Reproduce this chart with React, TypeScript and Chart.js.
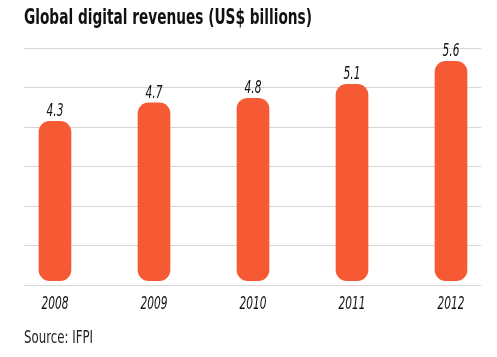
import React, { useEffect, useRef } from "react";
import { Chart, registerables } from "chart.js";

Chart.register(...registerables);

const YEARS = ["2008", "2009", "2010", "2011", "2012"];
const VALUES = [4.3, 4.7, 4.8, 5.1, 5.6];
const TITLE = "Global digital revenues (US$ billions)";
const SOURCE = "Source: IFPI";

const Y_MIN = 0.74;
const Y_MAX = 5.89;
const BAR_BASE = 0.84;
const GRID_STEPS = 6;
const X_MIN = -0.313;
const X_MAX = 4.303;

const BAR_COLOR = "#f65a34";
const GRID_COLOR = "#d6d6d6";
const FONT = "'Liberation Sans Narrow', 'DejaVu Sans Condensed', 'Arial Narrow', sans-serif";
const LABEL_FONT = `italic 17px ${FONT}`;
const YEAR_LABEL_WIDTH = 27;

function drawCondensed(ctx: any, text: string, x: number, y: number, factor: number) {
  ctx.save();
  ctx.translate(x, y);
  ctx.scale(factor, 1);
  ctx.fillText(text, 0, 0);
  ctx.restore();
}

const textLabels = {
  id: "textLabels",
  afterDatasetsDraw(chart: any) {
    const ctx = chart.ctx;
    const meta = chart.getDatasetMeta(0);
    const xScale = chart.scales.x;
    const area = chart.chartArea;
    ctx.save();
    ctx.font = LABEL_FONT;
    ctx.fillStyle = "#111";
    ctx.textAlign = "center";
    ctx.textBaseline = "alphabetic";
    const natural = ctx.measureText(YEARS[0]).width;
    const factor = natural > 0 ? Math.min(1, YEAR_LABEL_WIDTH / natural) : 1;
    meta.data.forEach((el: any, i: number) => {
      drawCondensed(ctx, VALUES[i].toFixed(1), el.x, el.y - 5, factor);
    });
    YEARS.forEach((year, i) => {
      drawCondensed(ctx, year, xScale.getPixelForValue(i), area.bottom + 24, factor);
    });
    ctx.restore();
  },
};

function FitText({ text, width, style }: { text: string; width: number; style: any }) {
  const ref = useRef<HTMLSpanElement>(null);
  useEffect(() => {
    const el = ref.current;
    if (!el) return;
    el.style.transform = "none";
    const w = el.getBoundingClientRect().width;
    if (w > 0) el.style.transform = `scaleX(${width / w})`;
  }, [text, width]);
  return (
    <span
      ref={ref}
      style={{ display: "inline-block", whiteSpace: "nowrap", transformOrigin: "left top", ...style }}
    >
      {text}
    </span>
  );
}

export default function App() {
  const canvasRef = useRef<HTMLCanvasElement>(null);

  useEffect(() => {
    if (!canvasRef.current) return;
    const chart = new Chart(canvasRef.current, {
      type: "bar",
      data: {
        datasets: [
          {
            data: VALUES.map((v, i) => ({ x: i, y: v })),
            backgroundColor: BAR_COLOR,
            borderWidth: 0,
            borderRadius: 11,
            borderSkipped: false,
            barThickness: 32,
            base: BAR_BASE,
          } as any,
        ],
      },
      options: {
        animation: false,
        responsive: true,
        maintainAspectRatio: false,
        layout: { padding: { left: 16, right: 8, top: 40, bottom: 63.7 } },
        plugins: {
          legend: { display: false },
          tooltip: { enabled: false },
          title: { display: false },
        },
        scales: {
          x: {
            type: "linear",
            display: false,
            offset: false,
            min: X_MIN,
            max: X_MAX,
            grid: { display: false },
            ticks: { stepSize: 1, includeBounds: false },
          },
          y: {
            type: "linear",
            min: Y_MIN,
            max: Y_MAX,
            afterBuildTicks: (scale: any) => {
              const ticks = [];
              for (let k = 0; k <= GRID_STEPS; k++) {
                ticks.push({ value: Y_MIN + ((Y_MAX - Y_MIN) * k) / GRID_STEPS });
              }
              scale.ticks = ticks;
            },
            grid: { color: GRID_COLOR, lineWidth: 1, drawTicks: false },
            border: { display: false },
            ticks: { display: false },
          },
        },
      },
      plugins: [textLabels],
    });
    return () => chart.destroy();
  }, []);

  return (
    <div style={{ position: "relative", width: 481, height: 341 }}>
      <canvas ref={canvasRef} />
      <div style={{ position: "absolute", left: 16, top: -2, lineHeight: "22px" }}>
        <FitText
          text={TITLE}
          width={288}
          style={{ fontFamily: FONT, fontWeight: "bold", fontSize: 22, color: "#111" }}
        />
      </div>
      <div style={{ position: "absolute", left: 16, top: 321, lineHeight: "17px" }}>
        <FitText text={SOURCE} width={69} style={{ fontFamily: FONT, fontSize: 17, color: "#222" }} />
      </div>
    </div>
  );
}
